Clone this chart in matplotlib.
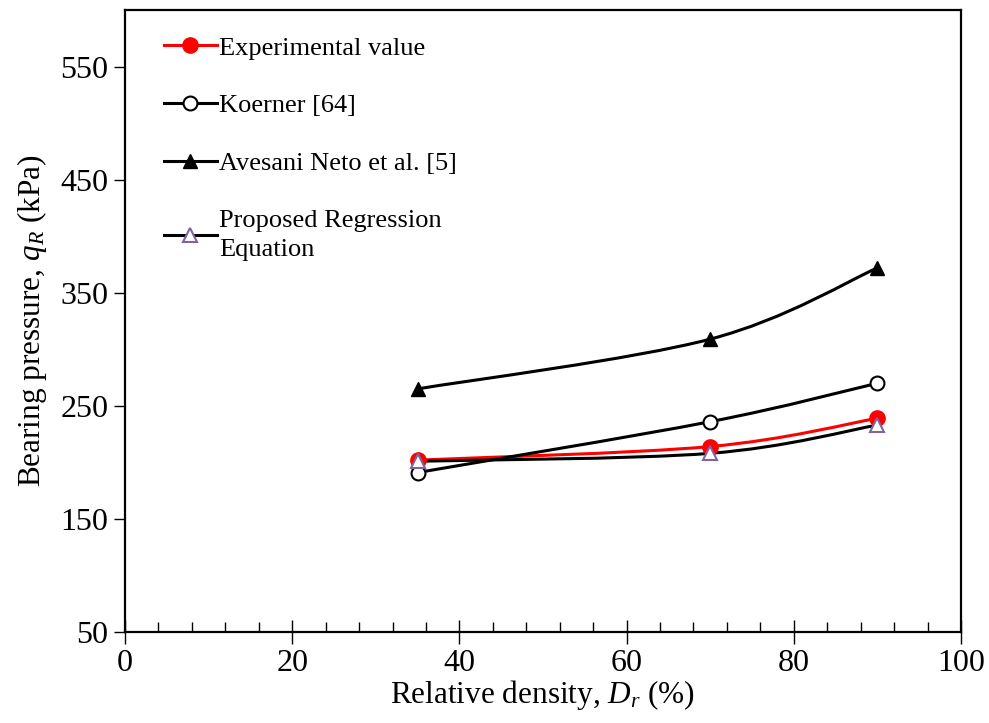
import numpy as np
import matplotlib
matplotlib.use("Agg")
import matplotlib.pyplot as plt
from matplotlib.path import Path
from matplotlib.patches import PathPatch
from matplotlib.lines import Line2D
from matplotlib.ticker import MultipleLocator

plt.rcParams["font.family"] = ["Liberation Serif", "DejaVu Serif"]
plt.rcParams["mathtext.fontset"] = "custom"
plt.rcParams["mathtext.rm"] = "Liberation Serif"
plt.rcParams["mathtext.it"] = "Liberation Serif:italic"

# --- data ---
dr = [35, 70, 90]
experimental = [202, 214, 239]
koerner = [191, 236, 270]
avesani = [265, 309, 372]
proposed = [201, 208, 233]

labels = ["Experimental value", "Koerner [64]", "Avesani Neto et al. [5]",
          "Proposed Regression\nEquation"]


def smooth_path(x, y):
    # Excel-style smoothed line: cubic Bezier segments (Catmull-Rom control points)
    pts = np.column_stack([x, y]).astype(float)
    ext = np.vstack([pts[0], pts, pts[-1]])
    verts = [pts[0]]
    codes = [Path.MOVETO]
    for i in range(1, len(ext) - 2):
        p0, p1, p2, p3 = ext[i - 1], ext[i], ext[i + 1], ext[i + 2]
        c1 = p1 + (p2 - p0) / 6.0
        c2 = p2 - (p3 - p1) / 6.0
        verts += [c1, c2, p2]
        codes += [Path.CURVE4] * 3
    return Path(verts, codes)


fig = plt.figure(figsize=(9.89, 7.23), dpi=100)
ax = fig.add_axes([0.1264, 0.1259, 0.8453, 0.8601])

series = [
    (experimental, "red", dict(marker="o", mfc="red", mec="red", ms=11)),
    (koerner, "black", dict(marker="o", mfc="white", mec="black", ms=10, mew=1.5)),
    (avesani, "black", dict(marker="^", mfc="black", mec="black", ms=10)),
    (proposed, "black", dict(marker="^", mfc="white", mec="#8064A2", ms=10, mew=1.5)),
]

handles = []
for (vals, col, mk), lab in zip(series, labels):
    ax.add_patch(PathPatch(smooth_path(dr, vals), fill=False, edgecolor=col,
                           lw=2.2, zorder=2))
for (vals, col, mk), lab in zip(series, labels):
    ax.plot(dr, vals, linestyle="none", zorder=3, **mk)
    handles.append(Line2D([], [], color=col, lw=2.2, **mk))

ax.set_xlim(0, 100)
ax.set_ylim(50, 600)
ax.xaxis.set_major_locator(MultipleLocator(20))
ax.xaxis.set_minor_locator(MultipleLocator(4))
ax.set_yticks([50, 150, 250, 350, 450, 550])

ax.tick_params(axis="x", which="major", direction="inout", length=17, width=1, labelsize=23, pad=4)
ax.tick_params(axis="x", which="minor", direction="in", length=7, width=1)
ax.tick_params(axis="y", which="major", direction="out", length=8, width=1, labelsize=23, pad=4)
for s in ax.spines.values():
    s.set_linewidth(1.6)

ax.set_xlabel("Relative density, $D_r$ (%)", fontsize=22.5, labelpad=0)
ax.set_ylabel("Bearing pressure, $q_R$ (kPa)", fontsize=22.5, labelpad=8)

leg = ax.legend(handles, labels, loc="upper left", frameon=False, fontsize=19,
                labelspacing=1.3, handlelength=2.0, handletextpad=0.1,
                bbox_to_anchor=(0.034, 0.975), borderaxespad=0)
leg.get_texts()[3].set_linespacing(1.45)

fig.savefig("out.png", dpi=100)
